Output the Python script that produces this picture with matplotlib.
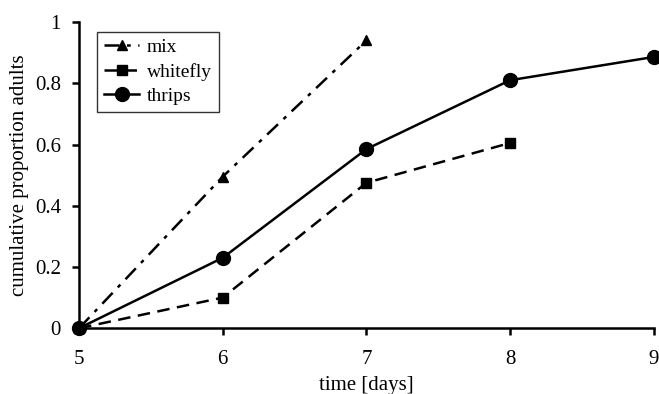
import matplotlib.pyplot as plt

days_mix = [5, 6, 7]
mix = [0, 0.495, 0.94]
days_whitefly = [5, 6, 7, 8]
whitefly = [0, 0.10, 0.475, 0.605]
days_thrips = [5, 6, 7, 8, 9]
thrips = [0, 0.23, 0.585, 0.81, 0.886]

plt.rcParams['font.family'] = ['Liberation Serif', 'DejaVu Serif']

fig = plt.figure(figsize=(6.59, 3.94), dpi=100)
ax = fig.add_axes([0.12, 0.167, 0.872, 0.777])

ax.plot(days_mix, mix, color='black', linestyle=(0, (6, 3, 1.5, 3)), lw=1.8,
        marker='^', markersize=7, label='mix', clip_on=False)
ax.plot(days_whitefly, whitefly, color='black', linestyle=(0, (5, 3)), lw=1.8,
        marker='s', markersize=7, label='whitefly', clip_on=False)
ax.plot(days_thrips, thrips, color='black', linestyle='-', lw=1.8,
        marker='o', markersize=10, label='thrips', clip_on=False)

ax.set_xlim(5, 9)
ax.set_ylim(0, 1)
ax.set_xticks([5, 6, 7, 8, 9])
ax.set_yticks([0, 0.2, 0.4, 0.6, 0.8, 1])
ax.set_yticklabels(['0', '0.2', '0.4', '0.6', '0.8', '1'])
ax.spines['top'].set_visible(False)
ax.spines['right'].set_visible(False)
for s in ('left', 'bottom'):
    ax.spines[s].set_linewidth(1.8)
ax.tick_params(direction='out', length=5, width=1.8, labelsize=15)
ax.tick_params(axis='x', pad=11)
ax.tick_params(axis='y', pad=8)
ax.set_xlabel('time [days]', fontsize=15, labelpad=5)
ax.set_ylabel('cumulative proportion adults', fontsize=15, labelpad=4)

leg = ax.legend(loc='upper left', bbox_to_anchor=(0.015, 1.0), fontsize=14,
                frameon=True, fancybox=False, edgecolor='black',
                handlelength=1.8, handletextpad=0.4, borderpad=0.35,
                labelspacing=0.35)
leg.get_frame().set_linewidth(1.0)

fig.savefig('out.png', dpi=100)
